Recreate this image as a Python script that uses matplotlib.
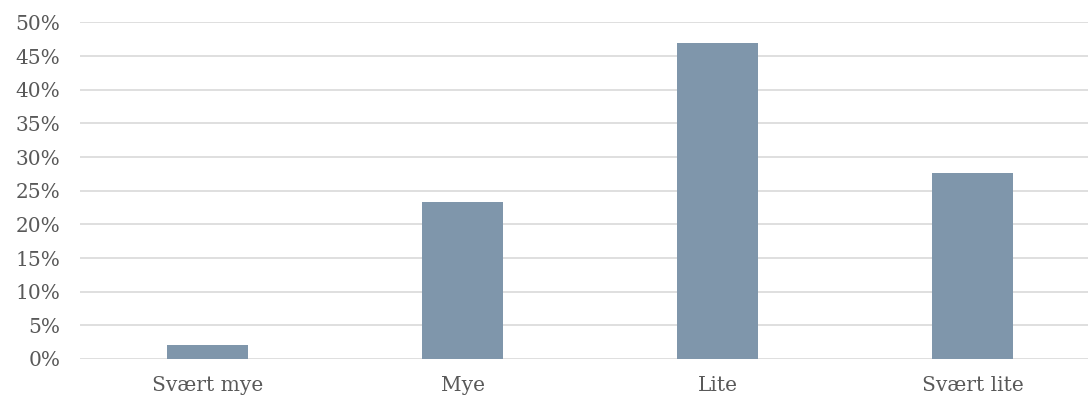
import matplotlib.pyplot as plt
from matplotlib.ticker import FuncFormatter, MultipleLocator

categories = ['Svært mye', 'Mye', 'Lite', 'Svært lite']
shares = [2.1, 23.4, 46.9, 27.6]

plt.rcParams['font.family'] = ['DejaVu Serif']

fig = plt.figure(figsize=(10.88, 4.0), dpi=100)
# plot area runs past the right edge, as in the reference
ax = fig.add_axes([80 / 1088, 41 / 400, 1020 / 1088, 336.5 / 400])

x = range(len(categories))
ax.bar(x, shares, width=0.314, color='#7f96ab', zorder=3)

ax.set_xlim(-0.5, len(categories) - 0.5)
ax.set_ylim(0, 50)
ax.yaxis.set_major_locator(MultipleLocator(5))
ax.yaxis.set_major_formatter(FuncFormatter(lambda v, p: f'{v:.0f}%'))
ax.set_xticks(list(x))
ax.set_xticklabels(categories)

ax.grid(axis='y', color='#d9d9d9', linewidth=1.2, zorder=0)
for s in ax.spines.values():
    s.set_visible(False)
ax.tick_params(length=0, labelsize=14.5, labelcolor='#595959')
ax.tick_params(axis='y', pad=14)
ax.tick_params(axis='x', pad=12)

fig.savefig('out.png', dpi=100)
